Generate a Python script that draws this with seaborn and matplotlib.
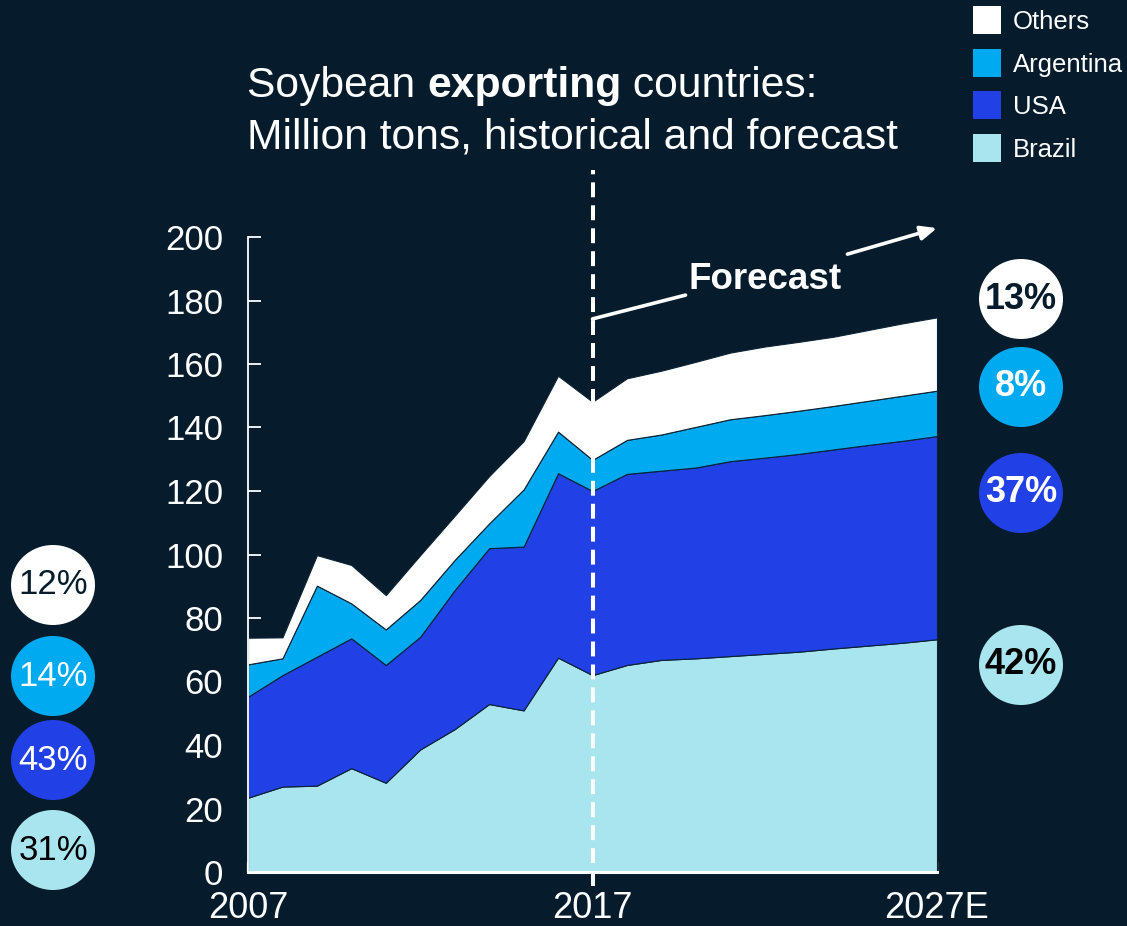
import numpy as np
import pandas as pd
import matplotlib.pyplot as plt
import seaborn as sns
from matplotlib.patches import Ellipse, Rectangle

# data (million tons)
years = list(range(2007, 2028))
brazil = [23.4, 26.9, 27.2, 32.7, 28.1, 38.6, 45.0, 52.9, 50.9, 67.5, 62.0,
          65.2, 66.8, 67.3, 68.0, 68.7, 69.4, 70.4, 71.3, 72.2, 73.3]
usa = [31.8, 35.1, 40.6, 40.9, 37.1, 35.5, 43.8, 49.1, 51.6, 58.1, 58.0,
       60.2, 59.6, 60.1, 61.4, 61.8, 62.3, 62.7, 63.2, 63.6, 64.0]
argentina = [10.2, 5.3, 22.4, 11.0, 11.2, 11.6, 9.5, 7.8, 18.0, 13.1, 9.8,
             10.7, 11.4, 12.8, 13.2, 13.4, 13.6, 13.7, 13.9, 14.2, 14.3]
others = [8.4, 6.6, 9.6, 12.1, 10.8, 14.1, 13.9, 14.9, 15.2, 17.6, 18.3,
          19.4, 20.1, 20.5, 21.0, 21.6, 21.7, 21.8, 22.3, 22.8, 23.1]

series_names = ['Brazil', 'USA', 'Argentina', 'Others']
start_shares = ['31%', '43%', '14%', '12%']
end_shares = ['42%', '37%', '8%', '13%']
xtick_years = [2007, 2017, 2027]
xtick_labels = ['2007', '2017', '2027E']

BG = '#061c2c'
colors = ['#a9e5ef', '#2140e5', '#00aaf0', '#ffffff']

df = pd.DataFrame({'Year': years, 'Brazil': brazil, 'USA': usa,
                   'Argentina': argentina, 'Others': others})

sns.set_theme(style='white', rc={'figure.facecolor': BG, 'axes.facecolor': BG,
                                 'axes.edgecolor': 'white', 'text.color': 'white',
                                 'xtick.color': 'white', 'ytick.color': 'white'})
plt.rcParams['font.family'] = ['Liberation Sans', 'DejaVu Sans']

W, H = 1127, 926
fig = plt.figure(figsize=(W / 100, H / 100), dpi=100)
ax = fig.add_axes([248 / W, (H - 872) / H, (937 - 248) / W, (872 - 237) / H])

ax.stackplot(df['Year'], *[df[c] for c in series_names], colors=colors,
             edgecolor='#0a2234', linewidth=0.8)

ax.set_xlim(2007, 2027)
ax.set_ylim(0, 200)
ax.set_yticks(range(0, 201, 20))
ax.set_xticks(xtick_years)
ax.set_xticklabels(xtick_labels)
ax.set_xticks(years, minor=True)
ax.tick_params(axis='y', direction='in', length=9, width=1.3, labelsize=25, pad=18, left=True)
ax.tick_params(axis='x', which='both', direction='in', length=7, width=1.6, labelsize=26, pad=14, bottom=True)
sns.despine(ax=ax)
ax.spines['left'].set_linewidth(1.3)
ax.spines['bottom'].set_linewidth(2.2)

# forecast divider
ax.plot([2017, 2017], [-4.5, 221], color='white', lw=2.9, ls=(0, (3.7, 2.0)),
        clip_on=False, zorder=5)
ax.plot([2017, 2019.7], [174.2, 181.7], color='white', lw=2.6, clip_on=False, zorder=6)
ax.annotate('', xy=(2027, 202.8), xytext=(2024.4, 194.6),
            arrowprops=dict(arrowstyle='-|>,head_length=0.8,head_width=0.35',
                            color='white', lw=2.6, shrinkA=0, shrinkB=0),
            annotation_clip=False)
ax.text(2022.0, 186.5, 'Forecast', fontsize=26.5, fontweight='bold', color='white',
        ha='center', va='center')

# title with bold word
fig.canvas.draw()
r = fig.canvas.get_renderer()
tx = 247 / W
ty1 = 1 - 97 / H
parts = [('Soybean ', 'normal'), ('exporting', 'bold'), (' countries:', 'normal')]
for txt, wt in parts:
    t = fig.text(tx, ty1, txt, fontsize=30.7, fontweight=wt, color='white', va='baseline')
    bb = t.get_window_extent(renderer=r)
    tx += bb.width / W
fig.text(247 / W, 1 - 148 / H, 'Million tons, historical and forecast', fontsize=30.7,
         color='white', va='baseline')

# legend
leg_y = [148, 105, 63, 20]
for name, col, yy in zip(series_names, colors, leg_y):
    fig.patches.append(Rectangle((973 / W, 1 - (yy + 14) / H), 28 / W, 28 / H,
                                 facecolor=col, edgecolor='none', transform=fig.transFigure,
                                 figure=fig))
    fig.text(1013 / W, 1 - (yy + 2) / H, name, fontsize=18.5, color='white', va='center')

# share bubbles
text_cols = ['black', 'white', 'white', BG]
left_y = [850, 760, 676, 585]
right_y = [665, 493, 387, 299]
for col, tc, lab, yy in zip(colors, text_cols, start_shares, left_y):
    fig.patches.append(Ellipse((53 / W, 1 - yy / H), 84 / W, 80 / H, facecolor=col,
                               edgecolor='none', transform=fig.transFigure, figure=fig))
    fig.text(53 / W, 1 - yy / H, lab, fontsize=25, color=tc, ha='center', va='center')
for col, tc, lab, yy in zip(colors, text_cols, end_shares, right_y):
    fig.patches.append(Ellipse((1021 / W, 1 - yy / H), 84 / W, 80 / H, facecolor=col,
                               edgecolor='none', transform=fig.transFigure, figure=fig))
    fig.text(1021 / W, 1 - yy / H, lab, fontsize=26, fontweight='bold', color=tc,
             ha='center', va='center')

fig.savefig('out.png', dpi=100, facecolor=BG)
